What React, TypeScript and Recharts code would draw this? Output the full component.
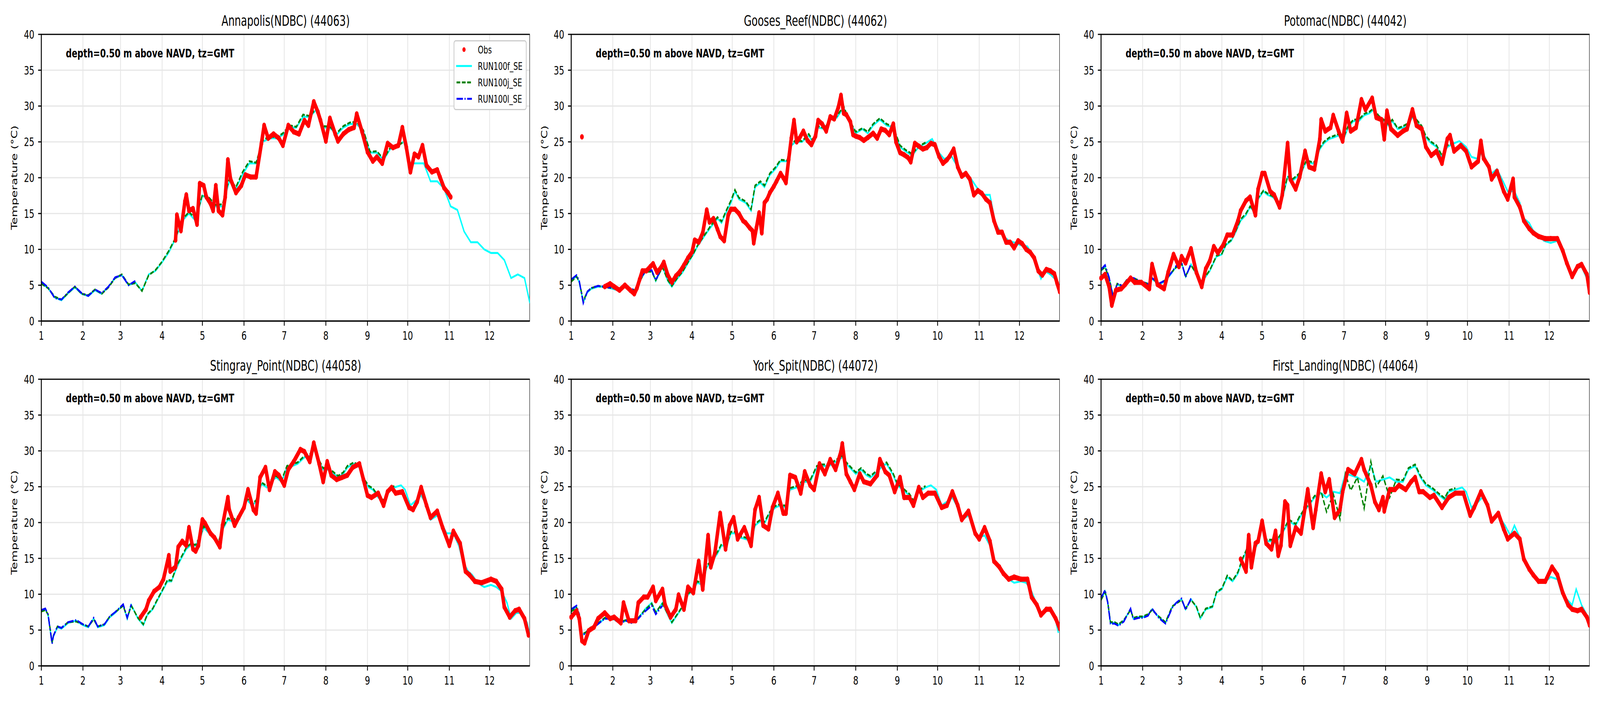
import { ComposedChart, Line, Scatter, XAxis, YAxis, CartesianGrid, Legend, ReferenceArea } from 'recharts';

// x axis: day of year, ticked at the first day of each month
const MONTH_TICKS = [1, 32, 60, 91, 121, 152, 182, 213, 244, 274, 305, 335];
const MONTH_LABELS = ['1', '2', '3', '4', '5', '6', '7', '8', '9', '10', '11', '12'];
const TEMP_TICKS = [0, 5, 10, 15, 20, 25, 30, 35, 40];
const LEGEND_LABELS = ['Obs', 'RUN100f_SE', 'RUN100j_SE', 'RUN100l_SE'];
const ANNOTATION = 'depth=0.50 m above NAVD, tz=GMT';

const OBS_COLOR = '#ff0000';
const F_COLOR = '#00ffff';
const J_COLOR = '#008000';
const L_COLOR = '#0000ff';

// ---- Annapolis(NDBC) (44063)
const annapolisDays = [1, 6, 11, 16, 21, 26, 31, 36, 41, 46, 51, 56, 61, 66, 71, 76, 81, 86, 91, 96, 101, 106, 111, 116, 121, 126, 131, 136, 141, 146, 151, 156, 161, 166, 171, 176, 181, 186, 191, 196, 201, 206, 211, 216, 221, 226, 231, 236, 241, 246, 251, 256, 261, 266, 271, 276, 281, 286, 291, 296, 301, 306, 311, 316, 321, 326, 331, 336, 341, 346, 351, 356, 361, 365];
const annapolisF = [5.3, 4.6, 3.3, 2.9, 3.9, 4.7, 3.8, 3.5, 4.3, 3.8, 4.8, 6.0, 6.4, 5.0, 5.4, 4.2, 6.5, 7.0, 8.2, 9.6, 11.5, 14.0, 15.0, 14.0, 17.5, 17.0, 16.0, 16.0, 19.5, 18.5, 20.5, 22.0, 22.0, 25.0, 25.5, 25.5, 26.0, 27.0, 27.0, 28.5, 28.5, 29.5, 27.0, 27.0, 26.0, 27.0, 27.5, 27.5, 26.5, 23.5, 23.5, 22.5, 24.0, 24.5, 25.0, 22.0, 22.0, 22.0, 19.5, 19.5, 18.5, 16.0, 15.5, 12.5, 11.0, 11.0, 10.0, 9.5, 9.5, 8.5, 6.0, 6.5, 6.0, 2.5];
const annapolisJ = [5.2, 4.6, 3.4, 3.0, 3.9, 4.8, 3.8, 3.6, 4.4, 3.8, 4.7, 6.0, 6.5, 5.1, 5.3, 4.2, 6.4, 7.1, 8.3, 9.8, 11.6, 14.2, 15.2, 14.3, 17.6, 17.2, 16.2, 16.3, 19.8, 18.7, 20.8, 22.3, 22.1, 25.2, 25.8, 25.6, 26.2, 27.3, 27.1, 28.8, 28.6, 29.7, 27.2, 27.1, 26.2, 27.2, 27.7, 27.8, 26.6, 23.6, 23.7, 22.6, 24.2, 24.4, 25.0];
const annapolisL = [5.5, 4.7, 3.2, 3.0, 4.0, 4.8, 3.9, 3.5, 4.4, 3.9, 4.8, 6.1, 6.4, 5.0, 5.6];
const annapolisObsDays = [101, 102, 105, 108, 109, 111, 114, 117, 119, 122, 124, 127, 129, 131, 133, 136, 138, 140, 142, 146, 150, 153, 157, 161, 165, 167, 170, 174, 178, 181, 185, 189, 193, 197, 200, 204, 207, 209, 213, 216, 220, 222, 226, 230, 234, 236, 240, 244, 248, 251, 255, 259, 263, 267, 270, 273, 276, 279, 282, 285, 288, 292, 296, 298, 301, 304, 306];
const annapolisObs = [11.3, 14.8, 12.6, 16.7, 17.6, 15.4, 15.7, 13.5, 19.2, 18.9, 17.3, 16.4, 15.4, 18.9, 15.4, 14.8, 17.3, 22.5, 19.8, 17.9, 18.9, 20.4, 20.1, 20.1, 24.8, 27.3, 25.5, 26.1, 25.5, 24.5, 27.3, 26.4, 26.1, 28.0, 27.3, 30.6, 29.2, 28.0, 25.1, 28.3, 26.1, 25.1, 26.1, 26.7, 27.0, 28.9, 26.4, 23.6, 22.3, 22.9, 22.0, 24.8, 24.2, 24.5, 27.0, 24.2, 20.8, 23.3, 22.9, 24.5, 21.7, 20.8, 21.1, 20.1, 18.6, 17.9, 17.3];

// ---- Gooses_Reef(NDBC) (44062)
const goosesDays = [1, 5, 7, 10, 13, 16, 21, 26, 32, 37, 40, 44, 49, 52, 56, 61, 64, 69, 73, 76, 80, 84, 88, 92, 95, 100, 105, 110, 113, 117, 120, 123, 126, 131, 135, 138, 142, 145, 149, 153, 157, 162, 164, 168, 173, 178, 181, 185, 190, 194, 199, 204, 207, 211, 213, 218, 222, 226, 231, 236, 241, 246, 250, 255, 260, 265, 270, 274, 279, 284, 289, 293, 298, 303, 308, 313, 317, 322, 327, 332, 336, 341, 346, 351, 354, 358, 363, 365];
const goosesF = [5.6, 6.3, 5.4, 2.6, 4.0, 4.5, 4.8, 4.8, 4.5, 4.2, 4.8, 4.5, 4.2, 5.6, 6.8, 7.0, 5.6, 7.6, 5.6, 4.8, 5.9, 6.8, 8.1, 9.3, 10.4, 11.8, 13.1, 14.3, 13.7, 15.4, 16.5, 18.1, 17.0, 16.5, 15.4, 18.7, 19.3, 18.7, 20.4, 21.2, 22.3, 22.3, 24.3, 25.0, 25.0, 25.9, 25.0, 27.0, 26.8, 28.1, 28.4, 29.8, 28.4, 27.0, 26.2, 26.8, 26.2, 27.3, 28.1, 27.3, 27.0, 24.3, 23.7, 23.1, 24.3, 24.8, 25.4, 23.7, 22.6, 23.1, 21.5, 20.4, 20.1, 18.7, 17.6, 17.6, 13.7, 12.0, 11.2, 10.9, 10.6, 10.4, 8.7, 5.9, 7.0, 6.5, 5.6, 4.3];
const goosesJ = [5.5, 6.2, 5.5, 2.8, 4.1, 4.6, 4.9, 4.7, 4.6, 4.3, 4.9, 4.4, 4.3, 5.5, 6.9, 6.9, 5.7, 7.5, 5.7, 4.9, 6.0, 6.9, 8.2, 9.4, 10.5, 11.9, 13.3, 14.5, 13.9, 15.6, 16.8, 18.3, 17.2, 16.7, 15.6, 18.9, 19.5, 18.9, 20.6, 21.4, 22.5, 22.4, 24.5, 25.2, 25.1, 26.1, 25.2, 27.2, 26.9, 28.3, 28.6, 30.0, 28.5, 27.1, 26.4, 26.9, 26.4, 27.5, 28.3, 27.5, 27.1, 24.5, 23.9, 23.3, 24.4, 24.9];
const goosesL = [5.8, 6.4, 5.6, 2.5, 4.1, 4.6, 4.9, 4.8, 4.6, 4.3, 4.9, 4.6, 4.3, 5.7, 6.9, 7.1, 5.7, 7.7];
const goosesObsDays = [26, 30, 33, 37, 41, 45, 48, 50, 52, 54, 57, 60, 62, 65, 68, 70, 73, 76, 79, 82, 85, 88, 91, 93, 96, 99, 102, 104, 107, 110, 112, 115, 118, 120, 123, 126, 129, 131, 134, 136, 137, 139, 141, 143, 145, 147, 149, 152, 154, 157, 159, 161, 163, 165, 167, 169, 171, 174, 177, 180, 183, 185, 188, 191, 194, 197, 200, 202, 204, 206, 209, 211, 213, 216, 219, 222, 226, 229, 232, 235, 238, 241, 243, 246, 249, 252, 254, 257, 260, 263, 266, 269, 272, 275, 278, 281, 283, 286, 289, 292, 295, 298, 301, 304, 307, 310, 313, 316, 319, 322, 325, 328, 331, 334, 337, 340, 343, 346, 349, 352, 355, 358, 361, 363, 365];
const goosesObs = [4.8, 5.2, 4.8, 4.3, 5.0, 4.3, 3.8, 4.6, 5.8, 7.0, 7.0, 7.6, 8.0, 6.8, 7.5, 8.2, 6.4, 5.4, 6.3, 6.9, 7.8, 8.8, 9.6, 11.3, 11.0, 12.3, 15.5, 13.8, 14.3, 12.8, 11.8, 11.2, 14.8, 15.6, 15.6, 15.0, 14.0, 13.7, 13.0, 12.6, 10.9, 13.0, 15.1, 12.3, 16.5, 17.0, 17.9, 18.8, 19.5, 20.6, 20.0, 19.3, 22.5, 25.5, 28.0, 25.0, 25.5, 26.5, 25.2, 24.6, 25.8, 28.0, 27.5, 26.5, 28.5, 28.2, 29.8, 31.5, 29.0, 28.8, 27.8, 26.0, 25.8, 25.6, 25.2, 25.6, 26.2, 25.5, 26.8, 26.6, 26.0, 27.5, 25.0, 23.5, 23.2, 22.8, 22.2, 24.8, 24.4, 24.0, 24.2, 24.8, 24.6, 23.0, 22.0, 22.5, 23.0, 24.0, 21.5, 20.2, 20.6, 19.8, 17.6, 18.2, 17.8, 17.0, 16.5, 14.0, 12.4, 12.4, 11.0, 11.0, 10.2, 11.2, 10.8, 10.0, 9.6, 8.8, 7.0, 6.4, 7.2, 7.0, 6.6, 5.3, 4.1];
const goosesOutlierDays = [9];
const goosesOutliers = [25.7];

// ---- Potomac(NDBC) (44042)
const potomacDays = [1, 4, 7, 10, 13, 17, 20, 25, 31, 36, 39, 44, 49, 54, 57, 61, 64, 68, 72, 75, 79, 82, 87, 91, 94, 98, 101, 105, 109, 112, 116, 118, 122, 125, 129, 134, 136, 140, 143, 147, 150, 154, 158, 160, 164, 167, 171, 174, 178, 181, 185, 189, 193, 197, 201, 204, 208, 211, 215, 218, 222, 226, 229, 233, 236, 240, 243, 247, 251, 255, 259, 264, 268, 273, 277, 282, 285, 289, 292, 296, 301, 304, 309, 313, 316, 320, 323, 327, 331, 336, 341, 344, 348, 351, 355, 359, 363, 365];
const potomacF = [7.0, 7.6, 5.9, 3.4, 5.1, 4.8, 5.6, 5.9, 5.4, 5.1, 5.9, 5.1, 5.6, 6.8, 7.6, 8.1, 6.2, 7.9, 6.5, 5.4, 6.2, 7.0, 9.0, 9.3, 10.6, 11.2, 12.3, 14.0, 14.8, 15.9, 15.1, 17.0, 18.1, 17.6, 17.3, 16.2, 17.0, 20.1, 19.5, 20.1, 20.6, 22.3, 22.0, 22.0, 24.0, 24.8, 25.4, 25.6, 25.9, 25.0, 27.0, 27.9, 27.9, 28.7, 29.0, 29.5, 28.4, 28.1, 27.3, 27.9, 26.8, 27.0, 27.3, 28.4, 27.9, 27.0, 25.6, 24.8, 24.3, 22.9, 24.3, 24.8, 25.1, 24.3, 22.9, 22.6, 23.7, 22.0, 20.6, 21.2, 19.3, 18.1, 18.1, 16.5, 14.3, 13.7, 12.6, 12.0, 11.2, 10.9, 11.2, 10.1, 8.1, 6.5, 7.3, 7.6, 5.9, 4.3];
const potomacJ = [7.1, 7.5, 6.0, 3.5, 5.2, 4.9, 5.7, 6.0, 5.5, 5.2, 6.0, 5.2, 5.7, 6.9, 7.5, 8.0, 6.3, 7.8, 6.6, 5.5, 6.3, 7.1, 9.1, 9.4, 10.7, 11.3, 12.4, 14.2, 15.0, 16.0, 15.3, 17.2, 18.2, 17.8, 17.4, 16.4, 17.2, 20.2, 19.7, 20.3, 20.8, 22.4, 22.2, 22.2, 24.2, 25.0, 25.6, 25.8, 26.1, 25.2, 27.2, 28.1, 28.1, 28.9, 29.2, 29.7, 28.6, 28.2, 27.5, 28.1, 26.9, 27.2, 27.5, 28.6, 28.1, 27.2, 25.8, 25.0, 24.5, 23.1, 24.5, 25.0];
const potomacL = [7.2, 7.8, 6.1, 3.2, 5.2, 4.9, 5.7, 6.0, 5.5, 5.2, 6.0, 5.2, 5.7, 6.9, 7.7, 8.2, 6.1, 8.0];
const potomacObsDays = [1, 4, 7, 9, 12, 16, 19, 23, 26, 31, 37, 39, 43, 48, 51, 55, 59, 61, 64, 68, 72, 76, 79, 82, 85, 88, 92, 95, 99, 103, 105, 109, 112, 116, 118, 121, 123, 127, 130, 134, 136, 140, 142, 146, 149, 153, 156, 160, 164, 165, 168, 172, 174, 178, 181, 184, 187, 191, 195, 198, 203, 206, 210, 212, 214, 217, 222, 226, 229, 233, 236, 240, 243, 247, 251, 255, 259, 261, 264, 269, 273, 277, 282, 284, 286, 290, 292, 296, 301, 304, 308, 309, 313, 316, 320, 323, 327, 332, 336, 341, 345, 348, 352, 356, 359, 363, 365];
const potomacObs = [6.0, 6.5, 4.8, 2.2, 4.3, 4.5, 5.1, 6.0, 5.4, 5.4, 4.5, 7.9, 5.1, 4.5, 6.8, 9.3, 7.6, 9.0, 8.1, 10.1, 6.8, 4.8, 7.3, 8.4, 10.4, 9.5, 10.6, 12.0, 12.0, 14.0, 15.4, 16.8, 17.3, 14.8, 18.4, 20.6, 20.6, 18.1, 17.6, 15.9, 17.6, 24.8, 19.8, 18.4, 20.1, 23.7, 21.5, 21.2, 25.4, 28.1, 26.5, 27.0, 28.7, 26.5, 25.1, 29.0, 26.5, 27.0, 30.9, 29.5, 31.1, 28.4, 28.1, 25.4, 29.3, 26.8, 25.9, 26.5, 26.8, 29.5, 27.3, 26.8, 24.3, 23.1, 23.7, 22.0, 25.4, 25.9, 23.7, 24.5, 23.7, 21.5, 22.3, 25.1, 22.7, 21.5, 19.8, 20.9, 18.1, 17.0, 19.8, 17.3, 15.9, 14.0, 12.9, 12.3, 11.8, 11.5, 11.5, 11.5, 9.8, 8.1, 6.2, 7.6, 7.9, 6.5, 4.0];

// ---- Stingray_Point(NDBC) (44058)
const stingrayDays = [1, 4, 6, 9, 10, 13, 16, 21, 27, 32, 36, 40, 43, 48, 52, 56, 62, 65, 68, 73, 77, 80, 84, 87, 91, 95, 98, 102, 105, 109, 112, 116, 120, 122, 126, 129, 133, 136, 140, 143, 147, 151, 154, 158, 161, 165, 169, 172, 176, 180, 184, 188, 192, 197, 201, 204, 208, 211, 215, 219, 222, 226, 229, 234, 238, 241, 245, 248, 252, 256, 259, 264, 269, 272, 276, 281, 284, 288, 291, 296, 300, 303, 308, 312, 315, 319, 322, 326, 331, 336, 340, 344, 348, 351, 355, 359, 363, 365];
const stingrayF = [7.7, 7.9, 7.1, 3.2, 4.1, 5.4, 5.2, 6.0, 6.3, 5.7, 5.4, 6.6, 5.4, 5.7, 6.8, 7.4, 8.5, 6.6, 8.5, 6.6, 5.7, 7.1, 7.9, 9.0, 10.4, 11.8, 11.8, 13.8, 14.9, 16.3, 16.8, 16.8, 18.2, 19.3, 18.5, 17.9, 17.1, 19.0, 20.4, 20.2, 20.4, 21.6, 23.2, 22.4, 22.9, 25.4, 24.9, 25.7, 26.3, 25.7, 27.7, 27.9, 28.2, 29.1, 29.3, 30.2, 28.5, 27.4, 27.4, 26.8, 26.3, 26.8, 27.7, 28.2, 27.7, 26.0, 24.9, 24.6, 23.5, 22.9, 24.3, 24.9, 25.2, 24.6, 22.4, 23.2, 23.8, 22.4, 20.4, 21.0, 19.6, 18.5, 18.5, 16.8, 14.6, 13.2, 12.7, 11.6, 11.0, 11.3, 11.0, 10.4, 8.8, 6.6, 7.4, 7.4, 6.0, 4.3];
const stingrayJ = [7.6, 7.8, 7.2, 3.3, 4.2, 5.5, 5.3, 6.1, 6.2, 5.8, 5.5, 6.5, 5.5, 5.8, 6.9, 7.5, 8.4, 6.7, 8.4, 6.7, 5.8, 7.2, 8.0, 9.1, 10.5, 12.0, 11.9, 14.0, 15.1, 16.5, 17.0, 16.9, 18.4, 19.5, 18.7, 18.1, 17.3, 19.2, 20.6, 20.4, 20.6, 21.8, 23.4, 22.6, 23.1, 25.6, 25.1, 25.9, 26.5, 25.9, 27.9, 28.1, 28.4, 29.3, 29.5, 30.4, 28.7, 27.6, 27.6, 27.0, 26.5, 27.0, 27.9, 28.4, 27.9, 26.2, 25.1, 24.8, 23.7, 23.1, 24.5, 25.1];
const stingrayL = [7.8, 8.0, 7.2, 3.1, 4.2, 5.5, 5.3, 6.1, 6.4, 5.8, 5.5, 6.7, 5.5, 5.8, 6.9, 7.5, 8.6, 6.7, 8.6];
const stingrayObsDays = [75, 79, 81, 85, 89, 92, 96, 97, 101, 103, 106, 109, 111, 114, 116, 118, 121, 123, 127, 130, 134, 136, 140, 141, 145, 148, 152, 155, 159, 161, 164, 168, 171, 175, 178, 182, 185, 189, 194, 197, 201, 204, 208, 211, 214, 217, 221, 225, 229, 233, 238, 241, 244, 247, 252, 256, 259, 262, 265, 270, 275, 278, 281, 284, 288, 291, 296, 300, 305, 308, 313, 317, 320, 324, 329, 336, 340, 344, 346, 350, 354, 357, 361, 364];
const stingrayObs = [6.8, 7.9, 9.1, 10.4, 11.0, 12.1, 15.4, 13.2, 13.8, 16.6, 17.4, 16.8, 19.3, 16.3, 16.0, 16.8, 20.4, 19.9, 18.5, 17.9, 16.6, 19.6, 23.5, 21.8, 19.6, 20.7, 22.1, 24.6, 21.8, 21.3, 26.3, 27.7, 24.6, 27.1, 26.6, 25.2, 27.4, 28.5, 30.2, 29.9, 28.5, 31.1, 28.2, 25.7, 28.5, 26.6, 26.0, 26.3, 26.6, 27.7, 28.2, 26.0, 23.8, 23.5, 24.1, 22.4, 24.3, 24.9, 24.1, 24.3, 22.1, 21.8, 22.9, 24.9, 22.4, 20.7, 21.6, 19.3, 16.8, 18.8, 17.1, 13.2, 12.7, 11.8, 11.6, 12.1, 11.8, 10.7, 8.2, 6.8, 7.7, 7.9, 6.6, 4.3];

// ---- York_Spit(NDBC) (44072)
const yorkDays = [1, 5, 7, 9, 12, 15, 20, 26, 32, 37, 42, 46, 51, 56, 61, 64, 69, 73, 76, 80, 85, 88, 92, 95, 99, 102, 106, 110, 113, 117, 120, 124, 127, 131, 135, 138, 142, 145, 149, 153, 157, 161, 164, 169, 174, 179, 184, 188, 193, 198, 203, 206, 210, 213, 217, 221, 224, 229, 233, 236, 241, 244, 248, 253, 256, 260, 265, 269, 273, 277, 281, 285, 289, 292, 297, 301, 304, 309, 313, 316, 320, 323, 327, 331, 336, 340, 344, 348, 351, 355, 358, 362, 364];
const yorkF = [7.7, 8.2, 7.1, 4.3, 4.6, 5.2, 5.7, 6.6, 6.6, 6.0, 6.3, 6.0, 6.6, 7.9, 8.8, 7.4, 8.8, 7.1, 6.0, 7.1, 8.5, 9.9, 10.7, 11.6, 11.3, 13.8, 14.6, 15.7, 16.8, 16.8, 18.5, 18.5, 17.9, 17.7, 17.4, 19.6, 20.2, 19.9, 21.3, 22.1, 22.4, 22.1, 24.6, 24.9, 25.7, 25.7, 27.7, 27.9, 27.9, 28.5, 29.1, 28.2, 27.4, 26.8, 27.4, 26.6, 26.3, 27.1, 27.9, 28.2, 26.6, 25.2, 24.6, 23.8, 22.9, 24.3, 24.9, 25.2, 24.6, 22.4, 22.9, 23.5, 22.1, 20.4, 21.0, 19.3, 17.9, 18.2, 16.8, 14.6, 13.8, 13.2, 12.1, 11.6, 11.8, 11.6, 10.4, 8.5, 7.1, 7.7, 7.9, 6.3, 4.6];
const yorkJ = [7.6, 8.1, 7.2, 4.4, 4.7, 5.3, 5.8, 6.7, 6.7, 6.1, 6.4, 6.1, 6.7, 7.8, 8.7, 7.5, 8.7, 7.2, 6.1, 7.2, 8.6, 10.0, 10.8, 11.8, 11.5, 14.0, 14.8, 15.9, 17.0, 17.0, 18.7, 18.7, 18.1, 17.9, 17.6, 19.8, 20.4, 20.1, 21.5, 22.3, 22.6, 22.3, 24.8, 25.1, 25.9, 25.9, 27.9, 28.1, 28.1, 28.7, 29.3, 28.4, 27.6, 27.0, 27.6, 26.8, 26.5, 27.3, 28.1, 28.4, 26.8, 25.4, 24.8, 24.0, 23.1, 24.5, 25.1];
const yorkL = [7.9, 8.4, 7.2, 4.2, 4.6, 5.2, 5.7, 6.6, 6.6, 6.0, 6.3, 6.0, 6.6, 7.6, 8.4, 7.2, 8.4];
const yorkObsDays = [1, 5, 7, 9, 11, 14, 18, 21, 26, 30, 33, 38, 40, 44, 49, 51, 55, 58, 62, 64, 69, 71, 75, 79, 81, 85, 88, 92, 96, 99, 103, 105, 108, 112, 116, 119, 122, 125, 130, 135, 138, 141, 144, 148, 151, 155, 159, 161, 164, 168, 172, 175, 179, 182, 186, 190, 194, 198, 202, 203, 206, 209, 212, 216, 219, 224, 229, 231, 235, 238, 242, 246, 249, 253, 256, 260, 263, 267, 272, 277, 281, 285, 289, 292, 297, 302, 305, 309, 313, 316, 320, 323, 327, 331, 336, 341, 344, 348, 351, 355, 358, 362, 365];
const yorkObs = [6.8, 7.7, 6.6, 3.5, 3.2, 4.9, 5.4, 6.6, 7.4, 6.6, 6.8, 6.0, 8.8, 6.3, 6.3, 8.8, 9.6, 9.6, 11.0, 9.1, 10.7, 8.5, 6.8, 7.9, 9.9, 7.9, 11.0, 10.2, 14.6, 10.7, 18.2, 13.8, 15.7, 21.3, 16.3, 19.6, 20.7, 17.7, 19.3, 16.8, 21.8, 23.5, 19.6, 19.1, 22.1, 24.1, 21.3, 21.3, 26.6, 26.3, 24.1, 27.1, 25.2, 24.6, 28.2, 26.8, 28.8, 27.4, 29.9, 31.0, 26.8, 25.7, 24.6, 26.8, 25.7, 25.4, 26.6, 28.8, 27.1, 26.6, 24.3, 26.3, 23.5, 23.5, 22.4, 24.9, 23.5, 24.1, 24.1, 22.1, 22.4, 24.3, 22.4, 20.4, 21.6, 18.5, 17.7, 19.3, 17.4, 14.6, 13.8, 12.9, 12.1, 12.4, 12.1, 12.1, 9.6, 8.5, 7.1, 7.9, 7.9, 6.6, 5.2];

// ---- First_Landing(NDBC) (44064)
const landingDays = [1, 4, 6, 8, 11, 14, 18, 23, 25, 29, 32, 36, 39, 44, 49, 54, 57, 61, 64, 68, 72, 75, 79, 84, 87, 91, 95, 99, 103, 106, 110, 113, 117, 121, 124, 128, 131, 136, 141, 146, 149, 153, 156, 160, 165, 169, 174, 179, 183, 187, 192, 197, 202, 206, 211, 216, 221, 226, 230, 235, 239, 243, 248, 253, 257, 260, 265, 270, 273, 277, 282, 285, 289, 292, 297, 302, 306, 309, 313, 316, 320, 323, 327, 331, 336, 341, 344, 348, 352, 355, 359, 363, 365];
const landingF = [9.3, 10.4, 8.8, 6.0, 6.0, 5.7, 6.3, 7.9, 6.6, 6.8, 6.8, 7.1, 7.9, 6.8, 6.0, 8.2, 8.8, 9.3, 7.9, 9.3, 8.2, 6.6, 7.9, 8.2, 10.2, 10.7, 12.4, 11.8, 12.9, 14.6, 16.3, 15.4, 16.8, 19.6, 17.4, 17.4, 17.1, 18.5, 20.2, 19.6, 20.7, 21.8, 22.4, 23.5, 24.1, 23.5, 24.3, 24.1, 26.8, 26.6, 26.3, 25.7, 27.9, 25.7, 26.0, 26.3, 25.7, 25.7, 27.4, 27.9, 26.3, 25.2, 24.6, 23.8, 23.2, 24.3, 24.6, 24.9, 24.3, 22.1, 22.9, 23.5, 22.1, 20.4, 21.0, 19.6, 18.2, 19.6, 17.9, 14.9, 13.5, 12.9, 11.8, 11.6, 12.4, 12.1, 10.2, 9.3, 8.5, 10.7, 8.5, 7.1, 6.0];
const landingJ = [9.2, 10.3, 8.9, 6.1, 6.1, 5.8, 6.4, 7.8, 6.7, 6.9, 6.9, 7.2, 7.8, 6.9, 6.1, 8.3, 8.7, 9.2, 8.0, 9.2, 8.3, 6.7, 8.0, 8.3, 10.3, 10.8, 12.6, 11.9, 13.1, 14.8, 16.5, 15.0, 17.0, 19.8, 17.6, 17.6, 17.3, 18.7, 20.4, 19.8, 20.9, 22.0, 22.6, 23.7, 24.3, 21.5, 24.0, 20.5, 26.8, 24.5, 26.3, 22.0, 28.5, 25.0, 26.5, 23.5, 26.0, 25.9, 27.6, 28.1, 26.5, 25.4, 24.8, 24.0, 23.4, 24.5, 24.8];
const landingL = [9.5, 10.6, 8.8, 5.9, 5.9, 5.6, 6.2, 8.0, 6.5, 6.7, 6.7, 7.0, 8.0, 6.7, 5.9, 8.1, 8.8, 9.4, 7.8, 9.4];
const landingObsDays = [105, 109, 111, 113, 116, 118, 121, 124, 128, 131, 133, 135, 138, 140, 142, 146, 150, 153, 155, 159, 161, 165, 168, 171, 175, 179, 181, 185, 190, 195, 197, 202, 205, 208, 211, 212, 216, 220, 223, 228, 232, 235, 238, 241, 246, 249, 255, 260, 265, 271, 276, 279, 284, 289, 292, 297, 301, 304, 309, 313, 316, 320, 323, 327, 332, 337, 341, 345, 349, 352, 356, 359, 363, 365];
const landingObs = [14.9, 13.2, 18.2, 13.8, 17.1, 17.4, 20.2, 17.1, 16.3, 18.8, 15.4, 16.8, 22.9, 22.4, 16.8, 19.3, 18.5, 22.1, 24.6, 19.3, 21.8, 26.8, 24.3, 26.0, 20.7, 21.8, 24.3, 27.4, 26.8, 28.8, 27.4, 25.2, 22.9, 21.8, 23.5, 21.6, 24.6, 24.6, 25.2, 24.6, 25.7, 26.3, 24.3, 24.3, 23.5, 23.8, 22.1, 23.5, 24.1, 24.1, 21.0, 22.1, 24.3, 22.4, 20.2, 21.3, 19.1, 17.7, 18.5, 17.7, 14.9, 13.5, 12.7, 11.8, 11.8, 13.8, 12.7, 10.2, 8.5, 7.9, 7.7, 7.9, 6.8, 5.7];

type Pt = { day: number; temp: number };
const toPoints = (days: number[], temps: number[]): Pt[] => temps.map((t, i) => ({ day: days[i], temp: t }));

const NONE: number[] = [];
const STATIONS = [
  { title: 'Annapolis(NDBC) (44063)', days: annapolisDays, f: annapolisF, j: annapolisJ, l: annapolisL, obsDays: annapolisObsDays, obs: annapolisObs, outDays: NONE, out: NONE },
  { title: 'Gooses_Reef(NDBC) (44062)', days: goosesDays, f: goosesF, j: goosesJ, l: goosesL, obsDays: goosesObsDays, obs: goosesObs, outDays: goosesOutlierDays, out: goosesOutliers },
  { title: 'Potomac(NDBC) (44042)', days: potomacDays, f: potomacF, j: potomacJ, l: potomacL, obsDays: potomacObsDays, obs: potomacObs, outDays: NONE, out: NONE },
  { title: 'Stingray_Point(NDBC) (44058)', days: stingrayDays, f: stingrayF, j: stingrayJ, l: stingrayL, obsDays: stingrayObsDays, obs: stingrayObs, outDays: NONE, out: NONE },
  { title: 'York_Spit(NDBC) (44072)', days: yorkDays, f: yorkF, j: yorkJ, l: yorkL, obsDays: yorkObsDays, obs: yorkObs, outDays: NONE, out: NONE },
  { title: 'First_Landing(NDBC) (44064)', days: landingDays, f: landingF, j: landingJ, l: landingL, obsDays: landingObsDays, obs: landingObs, outDays: NONE, out: NONE },
];

// figure laid out in the 6000x1800 coordinates of the reference
const FIG_W = 6000;
const FIG_H = 1800;
const CHART_W = 1987;
const CHART_H = 883;
const Y_AXIS_W = 155;
const PLOT_TOP = 88;
const X_AXIS_H = 61;
const FONT = "'DejaVu Sans', sans-serif";

const obsDot = (p: any) => <circle cx={p.cx} cy={p.cy} r={7} fill={OBS_COLOR} />;

const LegendBox = () => {
  const icons = [
    <circle cx={30} cy={21} r={6} fill={OBS_COLOR} />,
    <line x1={0} y1={21} x2={60} y2={21} stroke={F_COLOR} strokeWidth={5} />,
    <line x1={2} y1={21} x2={60} y2={21} stroke={J_COLOR} strokeWidth={5} strokeDasharray="14 6" />,
    <line x1={2} y1={21} x2={60} y2={21} stroke={L_COLOR} strokeWidth={5} strokeDasharray="24 6 4 6" />,
  ];
  return (
    <div style={{ position: 'relative', width: 274, height: 179, boxSizing: 'border-box', border: '3px solid #cccccc', borderRadius: 8, background: 'rgba(255,255,255,0.85)', fontFamily: FONT }}>
      {LEGEND_LABELS.map((label, i) => (
        <div key={label} style={{ position: 'absolute', left: 6, top: i * 42, height: 42, display: 'flex', alignItems: 'center' }}>
          <svg width={60} height={42}>{icons[i]}</svg>
          <span style={{ marginLeft: 22, fontSize: 27, color: '#000', whiteSpace: 'nowrap' }}>{label}</span>
        </div>
      ))}
    </div>
  );
};

const Panel = ({ station, index }: { station: typeof STATIONS[number]; index: number }) => {
  const left = (index % 3) * CHART_W;
  const top = Math.floor(index / 3) * CHART_H;
  const fData = toPoints(station.days, station.f);
  const jData = toPoints(station.days, station.j);
  const lData = toPoints(station.days, station.l);
  const obsData = toPoints(station.obsDays, station.obs);
  const outData = toPoints(station.outDays, station.out);
  const axisLine = { stroke: '#000', strokeWidth: 3 };
  const tickStyle = { fontSize: 31, fill: '#000', fontFamily: FONT };
  return (
    <div style={{ position: 'absolute', left, top, width: CHART_W, height: CHART_H }}>
      <div style={{ position: 'absolute', left: Y_AXIS_W, top: 35, width: CHART_W - Y_AXIS_W, textAlign: 'center', fontSize: 37.5, lineHeight: '37.5px', color: '#000', whiteSpace: 'nowrap' }}>
        {station.title}
      </div>
      <ComposedChart width={CHART_W} height={CHART_H} margin={{ top: PLOT_TOP, right: 0, bottom: 0, left: 0 }}>
        <CartesianGrid stroke="#e6e6e6" strokeWidth={3} />
        <XAxis
          type="number"
          dataKey="day"
          domain={[1, 365]}
          ticks={MONTH_TICKS}
          interval={0}
          tickFormatter={(v: number) => MONTH_LABELS[MONTH_TICKS.indexOf(v)]}
          height={X_AXIS_H}
          tickSize={12}
          tickMargin={14}
          axisLine={axisLine}
          tickLine={axisLine}
          tick={tickStyle}
        />
        <YAxis
          type="number"
          dataKey="temp"
          domain={[0, 40]}
          ticks={TEMP_TICKS}
          interval={0}
          width={Y_AXIS_W}
          tickSize={12}
          tickMargin={14}
          axisLine={axisLine}
          tickLine={axisLine}
          tick={tickStyle}
          label={{ value: 'Temperature (°C)', angle: -90, position: 'insideLeft', offset: 54, style: { textAnchor: 'middle', fontSize: 31, fill: '#000', fontFamily: FONT } }}
        />
        <Scatter name="Obs" data={obsData} fill={OBS_COLOR} shape={obsDot} line={{ stroke: OBS_COLOR, strokeWidth: 13, strokeLinejoin: 'round' }} isAnimationActive={false} />
        <Scatter name="Obs outlier" data={outData} fill={OBS_COLOR} shape={obsDot} legendType="none" isAnimationActive={false} />
        <Line name="RUN100f_SE" data={fData} dataKey="temp" type="linear" stroke={F_COLOR} strokeWidth={5} dot={false} activeDot={false} isAnimationActive={false} />
        <Line name="RUN100j_SE" data={jData} dataKey="temp" type="linear" stroke={J_COLOR} strokeWidth={5} strokeDasharray="14 6" dot={false} activeDot={false} isAnimationActive={false} />
        <Line name="RUN100l_SE" data={lData} dataKey="temp" type="linear" stroke={L_COLOR} strokeWidth={5} strokeDasharray="24 6 4 6" dot={false} activeDot={false} isAnimationActive={false} />
        <ReferenceArea x1={1} x2={365} y1={0} y2={40} fill="none" stroke="#000" strokeWidth={3} />
        {index === 0 && (
          <Legend
            layout="vertical"
            align="center"
            verticalAlign="middle"
            wrapperStyle={{ left: 1701, top: 103, width: 274, height: 179 }}
            content={() => <LegendBox />}
          />
        )}
      </ComposedChart>
      <div style={{ position: 'absolute', left: Y_AXIS_W + 92, top: PLOT_TOP + 33, fontSize: 31, lineHeight: '31px', fontWeight: 'bold', color: '#000', whiteSpace: 'nowrap' }}>
        {ANNOTATION}
      </div>
    </div>
  );
};

export default function App() {
  // the browser window can be narrower than the 6000px figure (it is capped at 4096 here),
  // so squeeze the figure horizontally to the visible width; heights stay as in the reference
  const viewW = typeof window !== 'undefined' ? window.innerWidth : FIG_W;
  const sx = Math.min(1, viewW / FIG_W);
  return (
    <div style={{ position: 'relative', width: FIG_W * sx, height: FIG_H, margin: '-8px 0 0 -8px', overflow: 'hidden', background: '#fff' }}>
      <div style={{ position: 'absolute', left: 0, top: 0, width: FIG_W, height: FIG_H, transform: `scaleX(${sx})`, transformOrigin: '0 0', background: '#fff', fontFamily: FONT }}>
        {STATIONS.map((s, i) => (
          <Panel key={s.title} station={s} index={i} />
        ))}
      </div>
    </div>
  );
}
